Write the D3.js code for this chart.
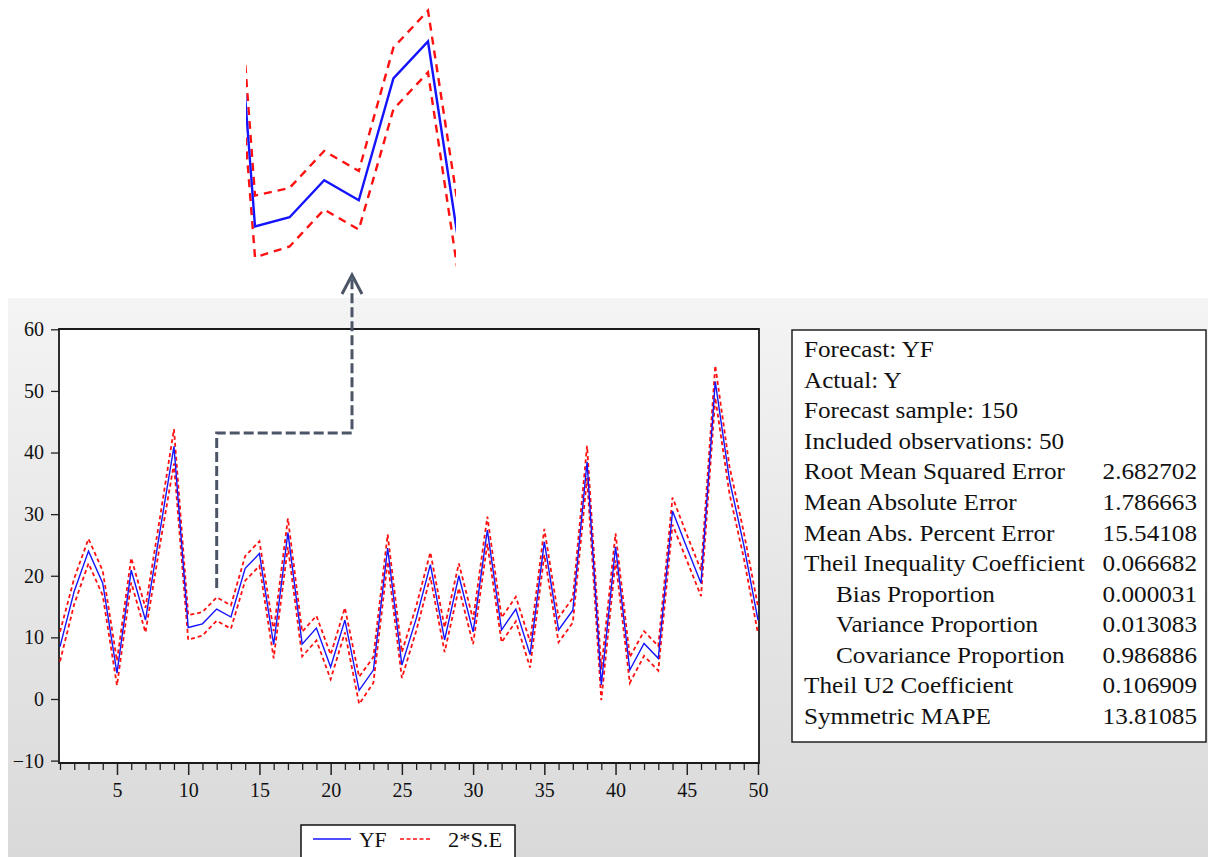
<!DOCTYPE html>
<html>
<head>
<meta charset="utf-8">
<script src="https://cdn.jsdelivr.net/npm/d3@7"></script>
<style>
  html, body { margin: 0; padding: 0; background: #ffffff; }
  svg { display: block; }
  text { font-family: "Liberation Serif", "Times New Roman", "DejaVu Serif", serif; fill: #111; }
</style>
</head>
<body>
<svg id="chart" width="1208" height="857"></svg>
<script>
// ---------- data ----------
const obs = d3.range(1, 51);
const yf = [8.5, 17.5, 24.0, 18.8, 4.2, 20.9, 12.8, 27.0, 41.0, 11.6,
            12.2, 14.6, 13.3, 21.2, 23.6, 8.8, 27.0, 8.9, 11.5, 5.2,
            12.8, 1.4, 4.7, 24.5, 5.5, 13.0, 21.8, 9.6, 20.0, 10.9,
            27.4, 11.2, 14.6, 7.2, 25.5, 11.2, 14.4, 38.5, 2.3, 24.7,
            4.7, 9.0, 6.6, 30.5, 24.6, 18.8, 51.5, 35.5, 25.0, 12.8];
const twoSE = [2.4, 2.1, 2.0, 2.0, 2.0, 2.0, 2.0, 2.2, 2.8, 2.0,
               1.9, 1.9, 1.9, 2.0, 2.0, 2.2, 2.3, 2.0, 2.0, 2.0,
               2.0, 2.2, 2.1, 2.2, 2.1, 2.0, 2.0, 2.0, 2.0, 2.0,
               2.2, 2.0, 2.0, 2.1, 2.1, 2.0, 2.0, 2.6, 2.5, 2.2,
               2.1, 2.0, 2.0, 2.2, 2.1, 2.1, 2.6, 2.2, 2.1, 2.2];
const yTicks = [-10, 0, 10, 20, 30, 40, 50, 60];
const xMajorTicks = [5, 10, 15, 20, 25, 30, 35, 40, 45, 50];
const legendLabels = ["YF", "2*S.E"];
const statLabels = ["Forecast: YF", "Actual: Y", "Forecast sample: 150", "Included observations: 50",
  "Root Mean Squared Error", "Mean Absolute Error", "Mean Abs. Percent Error",
  "Theil Inequality Coefficient", "Bias Proportion", "Variance Proportion",
  "Covariance Proportion", "Theil U2 Coefficient", "Symmetric MAPE"];
const statValues = ["", "", "", "", "2.682702", "1.786663", "15.54108", "0.066682",
  "0.000031", "0.013083", "0.986886", "0.106909", "13.81085"];
const statIndent = [0, 0, 0, 0, 0, 0, 0, 0, 1, 1, 1, 0, 0];
const zoomRange = [10, 15];      // observations magnified in the inset
const zoomValues = [11.5, 23.5];  // value window of the inset

// ---------- setup ----------
const svg = d3.select("#chart");
const defs = svg.append("defs");
const grad = defs.append("linearGradient").attr("id", "bg").attr("x1", 0).attr("y1", 0).attr("x2", 0).attr("y2", 1);
grad.append("stop").attr("offset", "0%").attr("stop-color", "#f4f4f4");
grad.append("stop").attr("offset", "100%").attr("stop-color", "#d9d9d9");

svg.append("rect").attr("x", 0).attr("y", 0).attr("width", 1208).attr("height", 857).attr("fill", "#ffffff");
svg.append("rect").attr("x", 8).attr("y", 298).attr("width", 1200).attr("height", 559).attr("fill", "url(#bg)");

const x = d3.scaleLinear().domain([1, 50]).range([60, 758]);
const y = d3.scaleLinear().domain([-10, 60]).range([760.6, 329.3]);
const frame = { left: 59, right: 759, top: 329, bottom: 763 };

const data = obs.map((o, i) => ({ o, v: yf[i], up: yf[i] + twoSE[i], lo: yf[i] - twoSE[i] }));

// plot area
svg.append("rect").attr("x", frame.left).attr("y", frame.top)
  .attr("width", frame.right - frame.left).attr("height", frame.bottom - frame.top)
  .attr("fill", "#ffffff");

// y axis
const yAxis = d3.axisLeft(y).tickValues(yTicks).tickSize(8).tickPadding(7).tickFormat(d3.format("d"));
const gy = svg.append("g").attr("transform", `translate(${frame.left},0)`).call(yAxis);
gy.attr("font-family", null);
gy.select(".domain").remove();
gy.selectAll("line").attr("stroke", "#222").attr("stroke-width", 1.3);
gy.selectAll("text").attr("font-size", 20).attr("fill", "#111");

// x axis: minor + major ticks
const gxMinor = svg.append("g").attr("transform", `translate(0,${frame.bottom})`)
  .call(d3.axisBottom(x).tickValues(obs.filter(d => d % 5 !== 0)).tickSize(7).tickFormat(""));
gxMinor.select(".domain").remove();
gxMinor.selectAll("line").attr("stroke", "#222").attr("stroke-width", 1.3);
const gx = svg.append("g").attr("transform", `translate(0,${frame.bottom})`)
  .call(d3.axisBottom(x).tickValues(xMajorTicks).tickSize(12).tickPadding(8).tickFormat(d3.format("d")));
gx.attr("font-family", null);
gx.select(".domain").remove();
gx.selectAll("line").attr("stroke", "#222").attr("stroke-width", 1.5);
gx.selectAll("text").attr("font-size", 20).attr("fill", "#111");

// frame border
svg.append("path")
  .attr("d", `M${frame.left},${frame.top}H${frame.right}V${frame.bottom}H${frame.left}Z`)
  .attr("fill", "none").attr("stroke", "#1a1a1a").attr("stroke-width", 1.8);

// series
const lineV = d3.line().x(d => x(d.o)).y(d => y(d.v));
const lineU = d3.line().x(d => x(d.o)).y(d => y(d.up));
const lineL = d3.line().x(d => x(d.o)).y(d => y(d.lo));
const clip = defs.append("clipPath").attr("id", "plotclip");
clip.append("rect").attr("x", frame.left).attr("y", frame.top).attr("width", frame.right - frame.left).attr("height", frame.bottom - frame.top);
const gp = svg.append("g").attr("clip-path", "url(#plotclip)");
gp.append("path").datum(data).attr("d", lineU).attr("fill", "none").attr("stroke", "#ff1010").attr("stroke-width", 1.8).attr("stroke-dasharray", "4,3");
gp.append("path").datum(data).attr("d", lineL).attr("fill", "none").attr("stroke", "#ff1010").attr("stroke-width", 1.8).attr("stroke-dasharray", "4,3");
gp.append("path").datum(data).attr("d", lineV).attr("fill", "none").attr("stroke", "#1414ff").attr("stroke-width", 1.4);

// ---------- inset (magnified view) ----------
const xi = d3.scaleLinear().domain(zoomRange).range([255, 428]);
const yi = d3.scaleLinear().domain(zoomValues).range([228, 43]);
const clip2 = defs.append("clipPath").attr("id", "insetclip");
clip2.append("rect").attr("x", 246).attr("y", 0).attr("width", 210).attr("height", 296);
const gi = svg.append("g").attr("clip-path", "url(#insetclip)");
const liV = d3.line().x(d => xi(d.o)).y(d => yi(d.v));
const liU = d3.line().x(d => xi(d.o)).y(d => yi(d.up));
const liL = d3.line().x(d => xi(d.o)).y(d => yi(d.lo));
const sub = data.filter(d => d.o >= zoomRange[0] - 1 && d.o <= zoomRange[1] + 1);
gi.append("path").datum(sub).attr("d", liU).attr("fill", "none").attr("stroke", "#ff1010").attr("stroke-width", 2.4).attr("stroke-dasharray", "8,6");
gi.append("path").datum(sub).attr("d", liL).attr("fill", "none").attr("stroke", "#ff1010").attr("stroke-width", 2.4).attr("stroke-dasharray", "8,6");
gi.append("path").datum(sub).attr("d", liV).attr("fill", "none").attr("stroke", "#1414ff").attr("stroke-width", 2.4);

// ---------- connector arrow ----------
const ax0 = x(zoomRange[0] + 2);
svg.append("path")
  .attr("d", `M${ax0},588V433H352V278`)
  .attr("fill", "none").attr("stroke", "#4b5567").attr("stroke-width", 3).attr("stroke-dasharray", "10,4");
svg.append("path")
  .attr("d", `M342,294L352,275L362,294`)
  .attr("fill", "none").attr("stroke", "#4b5567").attr("stroke-width", 3).attr("stroke-linejoin", "miter");

// ---------- stats box ----------
const sx = 1.12;
const sb = svg.append("g");
sb.append("rect").attr("x", 792).attr("y", 330).attr("width", 414).attr("height", 412)
  .attr("fill", "#ffffff").attr("stroke", "#222").attr("stroke-width", 1.5);
const rowY = d3.scaleLinear().domain([0, 12]).range([357, 724]);
statLabels.forEach((t, i) => {
  sb.append("text")
    .attr("transform", `translate(${statIndent[i] ? 836 : 804},${rowY(i)}) scale(${sx},1)`)
    .attr("font-size", 22.5).text(t);
  if (statValues[i]) {
    sb.append("text")
      .attr("transform", `translate(1197,${rowY(i)}) scale(${sx},1)`)
      .attr("text-anchor", "end")
      .attr("font-size", 22.5).text(statValues[i]);
  }
});

// ---------- legend ----------
const lg = svg.append("g");
lg.append("rect").attr("x", 301).attr("y", 825).attr("width", 214).attr("height", 44)
  .attr("fill", "#ffffff").attr("stroke", "#111").attr("stroke-width", 1.5);
lg.append("line").attr("x1", 313).attr("x2", 351).attr("y1", 839).attr("y2", 839).attr("stroke", "#1414ff").attr("stroke-width", 1.4);
lg.append("text").attr("transform", "translate(359,847) scale(1.08,1)").attr("font-size", 20).text(legendLabels[0]);
lg.append("line").attr("x1", 400).attr("x2", 431).attr("y1", 839).attr("y2", 839).attr("stroke", "#ff1010").attr("stroke-width", 1.4).attr("stroke-dasharray", "4,2.5");
lg.append("text").attr("transform", "translate(448,847) scale(1.12,1)").attr("font-size", 20).text(legendLabels[1]);
</script>
</body>
</html>
